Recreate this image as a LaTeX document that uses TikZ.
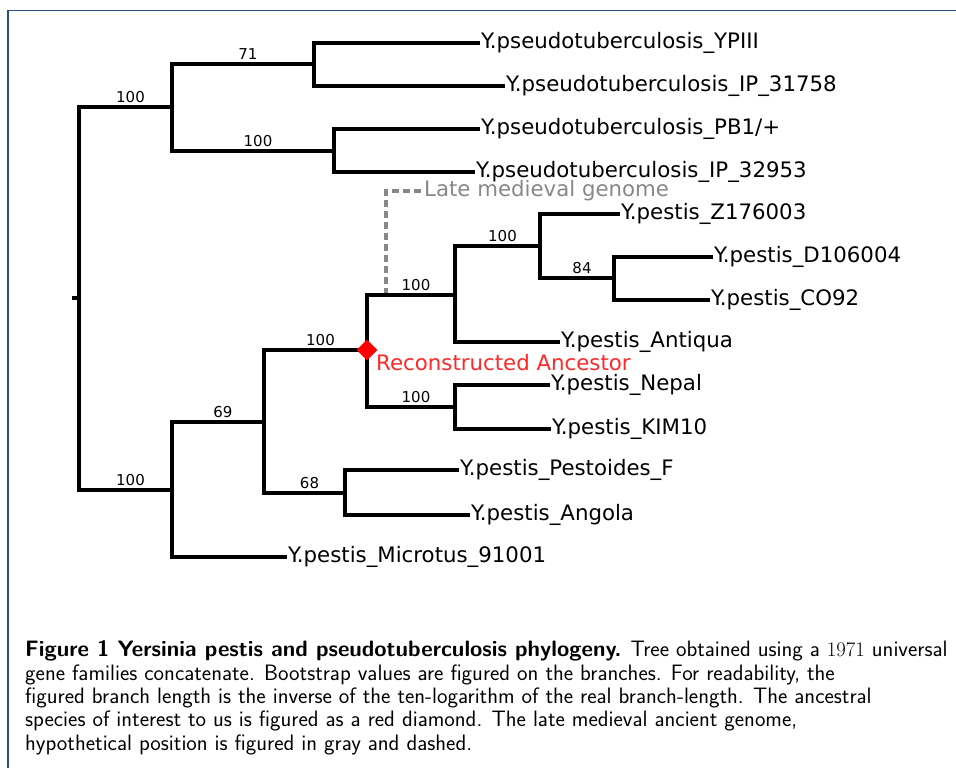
\documentclass[tikz,border=0pt]{standalone}
\usepackage{fontspec}
\newfontfamily\dejavu{DejaVu Sans}
\usetikzlibrary{shapes.geometric}
\definecolor{framecol}{RGB}{40,80,130}
\definecolor{ancred}{RGB}{255,40,40}
\definecolor{lmgray}{RGB}{135,135,135}
\begin{document}
\begin{tikzpicture}[x=1pt,y=-1pt,
  br/.style={line width=4pt, line join=miter, line cap=butt},
  leaf/.style={font=\dejavu\fontsize{21.3}{25}\selectfont, anchor=west, inner sep=1pt},
  bs/.style={font=\dejavu\fontsize{15}{18}\selectfont, anchor=south, inner sep=0pt, pos=0.75, yshift=2.5pt, xshift=5pt},
  lmdash/.style={lmgray, line width=3.5pt, dash pattern=on 7pt off 4pt},
]
\useasboundingbox (0,0) rectangle (956,768);
\draw[framecol, line width=1.2pt] (8,768) -- (8,10.5) -- (956,10.5);

% internal nodes
\coordinate (stub) at (72,298);
\coordinate (r) at (79,298);
\coordinate (A) at (172,107);
\coordinate (B) at (172,490);
\coordinate (A1) at (314,64);
\coordinate (A2) at (334,151);
\coordinate (B1) at (264,422);
\coordinate (B1b) at (345,493);
\coordinate (anc) at (367,350);
\coordinate (C) at (455,295);
\coordinate (D) at (455,407);
\coordinate (E) at (540,246);
\coordinate (F) at (614,278);
\coordinate (lmb) at (386,295);

% leaves
\node[leaf] (ypiii) at (480,43) {Y.pseudotuberculosis\_YPIII};
\node[leaf] (ip31758) at (505,86) {Y.pseudotuberculosis\_IP\_31758};
\node[leaf] (pb1) at (480,129) {Y.pseudotuberculosis\_PB1/+};
\node[leaf] (ip32953) at (475,172) {Y.pseudotuberculosis\_IP\_32953};
\node[leaf] (z176) at (620,214) {Y.pestis\_Z176003};
\node[leaf] (d106) at (713,257) {Y.pestis\_D106004};
\node[leaf] (co92) at (710,300) {Y.pestis\_CO92};
\node[leaf] (antiqua) at (560,342) {Y.pestis\_Antiqua};
\node[leaf] (nepal) at (550,385) {Y.pestis\_Nepal};
\node[leaf] (kim10) at (551,429) {Y.pestis\_KIM10};
\node[leaf] (pestoides) at (459,470) {Y.pestis\_Pestoides\_F};
\node[leaf] (angola) at (470,515) {Y.pestis\_Angola};
\node[leaf] (micro) at (287,557) {Y.pestis\_Microtus\_91001};

% late medieval genome
\node[leaf, text=lmgray] (lm) at (423,191) {Late medieval genome};
\draw[lmdash] (lmb) |- (lm.west);

% branches
\draw[br] (stub) -- (r);
\draw[br] (r) |- (A) node[bs] {100};
\draw[br] (r) |- (B) node[bs] {100};
\draw[br] (A) |- (A1) node[bs] {71};
\draw[br] (A) |- (A2) node[bs] {100};
\draw[br] (A1) |- (ypiii.west);
\draw[br] (A1) |- (ip31758.west);
\draw[br] (A2) |- (pb1.west);
\draw[br] (A2) |- (ip32953.west);
\draw[br] (B) |- (B1) node[bs] {69};
\draw[br] (B) |- (micro.west);
\draw[br] (B1) |- (anc) node[bs] {100};
\draw[br] (B1) |- (B1b) node[bs] {68};
\draw[br] (B1b) |- (pestoides.west);
\draw[br] (B1b) |- (angola.west);
\draw[br] (anc) |- (C) node[bs] {100};
\draw[br] (anc) |- (D) node[bs] {100};
\draw[br] (C) |- (E) node[bs] {100};
\draw[br] (C) |- (antiqua.west);
\draw[br] (E) |- (z176.west);
\draw[br] (E) |- (F) node[bs] {84};
\draw[br] (F) |- (d106.west);
\draw[br] (F) |- (co92.west);
\draw[br] (D) |- (nepal.west);
\draw[br] (D) |- (kim10.west);

% reconstructed ancestor
\node[diamond, fill=red, minimum width=21pt, minimum height=21pt, inner sep=0pt] (ancd) at (anc) {};
\node[leaf, text=ancred] (anctext) at (375,363) {Reconstructed Ancestor};

% caption
\node[anchor=base west, align=left, inner sep=0pt, font=\sffamily\fontsize{22.3}{23.3}\selectfont] (cap) at (25,750)
{\textbf{Figure 1 Yersinia pestis and pseudotuberculosis phylogeny.} Tree obtained using a $1971$ universal\\
gene families concatenate. Bootstrap values are figured on the branches. For readability, the\\
figured branch length is the inverse of the ten-logarithm of the real branch-length. The ancestral\\
species of interest to us is figured as a red diamond. The late medieval ancient genome,\\
hypothetical position is figured in gray and dashed.};
\end{tikzpicture}
\end{document}
